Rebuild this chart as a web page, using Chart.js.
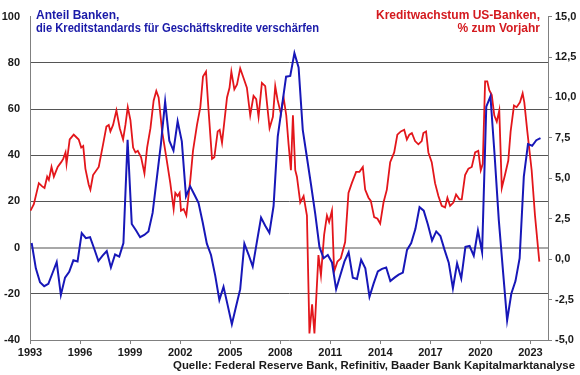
<!DOCTYPE html>
<html>
<head>
<meta charset="utf-8">
<script src="https://cdn.jsdelivr.net/npm/chart.js@4/dist/chart.umd.min.js"></script>
<style>
  html, body { margin: 0; padding: 0; background: #fff; }
  #wrap { width: 580px; height: 375px; position: relative; }
</style>
</head>
<body>
<div id="wrap"><canvas id="chart"></canvas></div>
<script>
// Anteil Banken mit verschärften Standards (quartalsweise ab 1993 Q1), linke Achse
const blueStart = 1993.1;
const blueValues = [
  2, -9, -15, -16.7,
  -15.7, -11, -6.3, -20.5,
  -13, -10.5, -5.5, -6,
  6.3, 4.1, 4.5, -0.5,
  -5.8, -3.5, -1.5, -8.6,
  -3, -3.9, 2, 46.7,
  10.2, 7.5, 4.5, 5.5,
  7, 15, 30, 45,
  63.2, 46.3, 42, 54.7,
  46, 22.2, 26.5, 23,
  19.4, 11, 1.7, -3.2,
  -12, -22.7, -17, -25,
  -33.2, -25.5, -18, 1.7,
  -3, -8.2, 2.5, 13,
  9.5, 6.4, 18, 48,
  61, 74, 74.3, 84.2,
  78, 51, 39, 27,
  14.5, 0.3, -4.6, -3.2,
  -6.4, -18, -12, -6,
  -2, -13, -13.6, -5.3,
  -9, -21.3, -15.5, -10.3,
  -9.2, -8.6, -14.5, -13,
  -11.7, -10.8, -1, 2,
  8, 17.5, 16, 10,
  3.1, 7, 5, -1,
  -6.5, -17.6, -6.8, -13.4,
  0.3, 0.7, -3.5, 7.4,
  -2, 61, 65.5, 40,
  12, -10, -31.5, -20,
  -14.5, -4.6, 30.7, 44.8,
  44.1, 46.5, 47.4
];

// Kreditwachstum US-Banken in % ggü. Vorjahr, rechte Achse
const redYears = [
  1993.03, 1993.23, 1993.53, 1993.73, 1993.87, 1994.03, 1994.13, 1994.29, 1994.43, 1994.66,
  1994.87, 1994.99, 1995.13, 1995.19, 1995.38, 1995.62, 1995.72, 1995.92, 1996.07, 1996.19,
  1996.32, 1996.52, 1996.62, 1996.78, 1997.12, 1997.38, 1997.58, 1997.72, 1997.82, 1997.98,
  1998.18, 1998.38, 1998.58, 1998.72, 1998.86, 1999.02, 1999.18, 1999.32, 1999.46, 1999.66,
  1999.86, 2000.02, 2000.22, 2000.41, 2000.57, 2000.71, 2000.92, 2001.17, 2001.41, 2001.61,
  2001.71, 2001.85, 2001.97, 2002.05, 2002.21, 2002.37, 2002.61, 2002.77, 2003.01, 2003.21,
  2003.37, 2003.55, 2003.71, 2003.91, 2004.05, 2004.25, 2004.37, 2004.51, 2004.81, 2004.96,
  2005.07, 2005.25, 2005.41, 2005.6, 2005.8, 2006.0, 2006.2, 2006.4, 2006.56, 2006.7,
  2006.9, 2007.1, 2007.36, 2007.56, 2007.7, 2007.84, 2008.04, 2008.2, 2008.36, 2008.5,
  2008.64, 2008.76, 2008.9, 2009.0, 2009.2, 2009.4, 2009.6, 2009.75, 2009.91, 2010.05,
  2010.29, 2010.44, 2010.63, 2010.8, 2010.93, 2011.1, 2011.23, 2011.43, 2011.63, 2011.89,
  2012.09, 2012.29, 2012.55, 2012.75, 2012.95, 2013.09, 2013.29, 2013.43, 2013.63, 2013.83,
  2013.99, 2014.19, 2014.39, 2014.59, 2014.83, 2015.02, 2015.23, 2015.43, 2015.59, 2015.74,
  2015.89, 2016.08, 2016.28, 2016.48, 2016.58, 2016.74, 2016.88, 2017.08, 2017.28, 2017.48,
  2017.68, 2017.88, 2018.02, 2018.18, 2018.38, 2018.54, 2018.74, 2018.88, 2019.08, 2019.28,
  2019.48, 2019.68, 2019.87, 2020.02, 2020.14, 2020.28, 2020.41, 2020.53, 2020.68, 2020.83,
  2020.98, 2021.13, 2021.28, 2021.47, 2021.67, 2021.81, 2022.01, 2022.17, 2022.37, 2022.53,
  2022.63, 2022.81, 2023.07, 2023.27, 2023.53
];
const redValues = [
  3.0, 3.4, 4.7, 4.5, 4.4, 5.1, 4.9, 5.7, 5.1, 5.7,
  6.0, 6.2, 6.6, 5.9, 7.4, 7.7, 7.6, 7.4, 6.9, 7.0,
  5.6, 4.6, 4.3, 5.2, 5.7, 7.1, 8.2, 8.3, 7.9, 8.3,
  9.2, 8.1, 7.4, 8.3, 9.4, 8.6, 6.9, 6.6, 6.7, 6.3,
  5.3, 6.9, 8.1, 9.8, 10.4, 10.0, 7.9, 6.3, 4.7, 3.1,
  4.1, 3.9, 4.1, 3.0, 3.1, 2.7, 4.9, 6.7, 8.3, 9.4,
  11.3, 11.6, 9.1, 6.2, 6.3, 7.9, 8.0, 7.2, 10.0, 10.6,
  11.6, 10.5, 10.8, 11.8, 11.2, 10.6, 8.9, 10.1, 9.9, 8.8,
  10.9, 10.7, 8.1, 8.8, 10.7, 9.85, 9.0, 10.0, 8.9, 7.1,
  5.5, 8.9, 5.5, 5.1, 3.5, 3.9, 2.7, -4.6, -2.8, -4.6,
  0.25, -1.0, 1.5, 2.7, 2.3, 3.0, -0.76, -0.15, 0.05, 1.06,
  4.1, 4.7, 5.4, 5.4, 5.7, 4.3, 3.8, 3.6, 2.6, 2.5,
  2.2, 3.5, 4.3, 6.0, 6.6, 7.7, 7.9, 8.0, 7.4, 7.7,
  7.8, 7.3, 7.1, 7.3, 7.8, 7.9, 6.6, 6.0, 4.7, 3.9,
  3.3, 3.2, 3.8, 3.3, 3.5, 4.0, 3.7, 3.7, 5.2, 5.6,
  5.7, 6.6, 6.7, 5.5, 5.9, 11.0, 11.0, 10.45, 10.15, 8.9,
  8.5, 9.2, 4.4, 5.2, 6.1, 7.9, 9.5, 9.4, 9.7, 10.25,
  9.7, 7.9, 5.5, 2.7, -0.15
];

const yearTicks = [1993, 1996, 1999, 2002, 2005, 2008, 2011, 2014, 2017, 2020, 2023];

const C = {
  blue: "#1717b8",
  red: "#e3161b",
  blueText: "#1a1aa8",
  redText: "#d41a1f",
  text: "#1a1a1a",
  axis: "#808080",
  grid: "#555555",
  zero: "#a8a8a8",
};

const tickFont = { family: "'Liberation Sans', Arial, sans-serif", size: 11, weight: "bold" };

const bluePoints = blueValues.map((v, i) => ({ x: blueStart + i / 4, y: v }));
const redPoints = redYears.map((yr, i) => ({ x: yr, y: redValues[i] }));

// Texte im Diagramm (Legenden oben, Quelle unten)
const textPlugin = {
  id: "texts",
  afterDraw(chart) {
    const ctx = chart.ctx;
    ctx.save();
    ctx.font = "bold 12px 'Liberation Sans', Arial, sans-serif";
    ctx.textBaseline = "middle";
    ctx.fillStyle = C.blueText;
    ctx.textAlign = "left";
    ctx.fillText("Anteil Banken,", 36, 16);
    ctx.fillText("die Kreditstandards für Geschäftskredite verschärfen", 36, 29, 283);
    ctx.fillStyle = C.redText;
    ctx.textAlign = "right";
    ctx.fillText("Kreditwachstum US-Banken,", 540, 16, 165);
    ctx.fillText("% zum Vorjahr", 540, 29);
    ctx.fillStyle = C.text;
    ctx.font = "bold 11.5px 'Liberation Sans', Arial, sans-serif";
    ctx.fillText("Quelle: Federal Reserve Bank, Refinitiv, Baader Bank Kapitalmarktanalyse", 575, 366, 402);
    ctx.restore();
  },
};

new Chart(document.getElementById("chart"), {
  type: "scatter",
  data: {
    datasets: [
      {
        label: "Anteil Banken",
        data: bluePoints,
        yAxisID: "y",
        showLine: true,
        borderColor: C.blue,
        backgroundColor: C.blue,
        borderWidth: 2,
        pointRadius: 0,
        tension: 0,
      },
      {
        label: "Kreditwachstum",
        data: redPoints,
        yAxisID: "y1",
        showLine: true,
        borderColor: C.red,
        backgroundColor: C.red,
        borderWidth: 1.8,
        pointRadius: 0,
        tension: 0,
      },
    ],
  },
  options: {
    responsive: true,
    maintainAspectRatio: false,
    animation: false,
    layout: { padding: { top: 10, left: 0, right: 0, bottom: 0 } },
    plugins: { legend: { display: false }, tooltip: { enabled: false } },
    scales: {
      x: {
        type: "linear",
        min: 1993,
        max: 2024.05,
        afterBuildTicks: (s) => { s.ticks = yearTicks.map((v) => ({ value: v })); },
        afterFit: (s) => { s.height = 35; },
        ticks: { callback: (v) => String(v), font: tickFont, color: C.text, padding: 2, maxRotation: 0, autoSkip: false },
        grid: { drawOnChartArea: false, tickLength: 4, color: C.axis },
        border: { color: C.axis },
      },
      y: {
        position: "left",
        min: -40,
        max: 100,
        afterFit: (s) => { s.width = 30; },
        ticks: { stepSize: 20, padding: 10, font: tickFont, color: C.text },
        grid: {
          drawTicks: false,
          color: (c) => (c.tick.value === 0 ? C.zero : (c.tick.value === 100 || c.tick.value === -40) ? "rgba(0,0,0,0)" : C.grid),
          lineWidth: (c) => (c.tick.value === 0 ? 2 : 1),
        },
        border: { color: C.axis },
      },
      y1: {
        position: "right",
        min: -5,
        max: 15,
        afterFit: (s) => { s.width = 32; },
        ticks: { stepSize: 2.5, padding: 3, font: tickFont, color: C.text, callback: (v) => v.toFixed(1).replace(".", ",") },
        grid: { drawOnChartArea: false, tickLength: 4, color: C.axis },
        border: { color: C.axis },
      },
    },
  },
  plugins: [textPlugin],
});
</script>
</body>
</html>
